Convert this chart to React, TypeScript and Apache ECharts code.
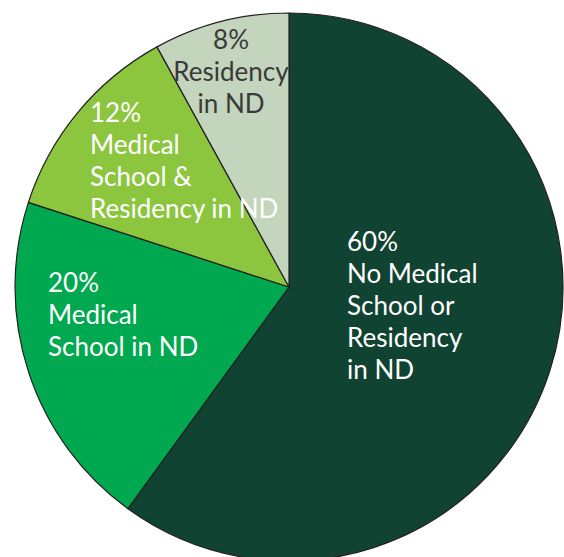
import React, { useEffect, useRef } from "react";
import * as echarts from "echarts";

const categories = [
  "No Medical\nSchool or\nResidency\nin ND",
  "Medical\nSchool in ND",
  "Medical\nSchool &\nResidency in ND",
  "Residency\nin ND",
];
const shares = [60, 20, 12, 8];
const sliceColors = ["#114332", "#00a84f", "#8cc63f", "#c3d5bc"];
const labelColors = ["#ffffff", "#ffffff", "#ffffff", "#3a3a3a"];
// label anchor positions (pixels) for each slice
const labelPos = [
  { x: 347, y: 225, align: "left" },
  { x: 48, y: 266, align: "left" },
  { x: 90, y: 96, align: "left" },
  { x: 231, y: 23, align: "center" },
];

export default function App() {
  const ref = useRef<HTMLDivElement>(null);
  useEffect(() => {
    const chart = echarts.init(ref.current!, undefined, { renderer: "svg" });
    chart.setOption({
      animation: false,
      series: [
        {
          type: "pie",
          center: [289, 287],
          radius: [0, 274],
          startAngle: 90,
          clockwise: true,
          silent: true,
          data: categories.map((name, i) => ({
            name,
            value: shares[i],
            itemStyle: { color: sliceColors[i] },
            label: { color: labelColors[i], align: labelPos[i].align },
          })),
          itemStyle: { borderColor: "#231f20", borderWidth: 1.2 },
          label: {
            show: true,
            position: "inside",
            formatter: (p: any) => `${p.value}%\n${p.name}`,
            fontFamily: "Lato",
            fontSize: 26,
            lineHeight: 32,
          },
          labelLine: { show: false },
          labelLayout: (params: any) => {
            const lp = labelPos[params.dataIndex];
            return { x: lp.x, y: lp.y, align: lp.align, verticalAlign: "top" };
          },
        },
      ],
    });
    return () => chart.dispose();
  }, []);
  return (
    <div
      ref={ref}
      style={{ position: "absolute", left: 0, top: 0, width: 564, height: 557 }}
    />
  );
}
